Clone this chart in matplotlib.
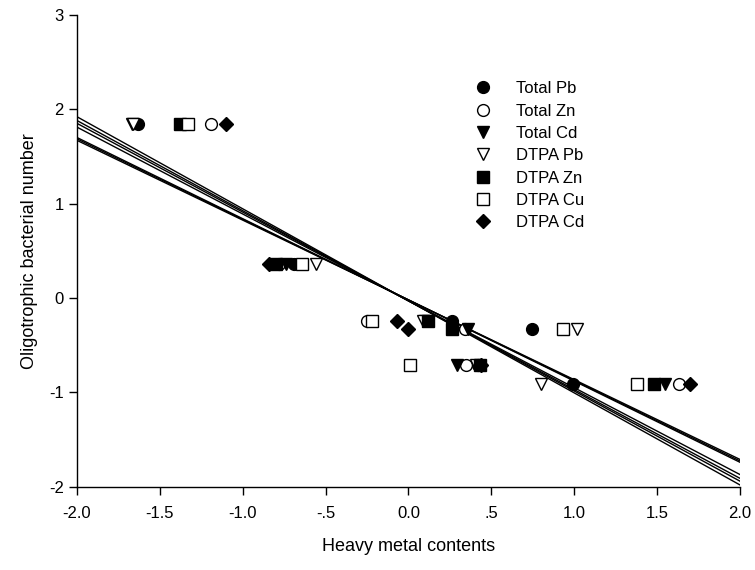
import numpy as np
import matplotlib
matplotlib.use("Agg")
import matplotlib.pyplot as plt

plt.rcParams["font.family"] = ["Liberation Sans", "DejaVu Sans"]
plt.rcParams["axes.unicode_minus"] = False

# standardized bacterial number (shared y for every series)
bact = [1.84, 0.36, -0.24, -0.33, -0.71, -0.91]

# standardized heavy metal contents, same sample order as bact
total_pb = [-1.63, -0.69, 0.26, 0.745, 0.42, 0.99]
total_zn = [-1.19, -0.78, -0.25, 0.34, 0.35, 1.63]
total_cd = [-1.67, -0.74, 0.10, 0.36, 0.29, 1.55]
dtpa_pb = [-1.66, -0.56, 0.09, 1.02, 0.41, 0.80]
dtpa_zn = [-1.38, -0.80, 0.12, 0.26, 0.43, 1.48]
dtpa_cu = [-1.33, -0.64, -0.22, 0.93, 0.01, 1.38]
dtpa_cd = [-1.10, -0.84, -0.07, 0.00, 0.44, 1.70]

labels = ["Total Pb", "Total Zn", "Total Cd", "DTPA Pb",
          "DTPA Zn", "DTPA Cu", "DTPA Cd"]

# regression lines (slope, intercept)
slopes = [-0.975, -0.955, -0.94, -0.92, -0.86, -0.853, -0.845]
intercepts = [-0.03, -0.03, -0.03, -0.03, -0.02, -0.02, -0.02]
line_x = [-2.0, 2.0]

xticks = [-2.0, -1.5, -1.0, -0.5, 0.0, 0.5, 1.0, 1.5, 2.0]
xticklabels = ["-2.0", "-1.5", "-1.0", "-.5", "0.0", ".5", "1.0", "1.5", "2.0"]
yticks = [-2, -1, 0, 1, 2, 3]

fig = plt.figure(figsize=(7.55, 5.7), dpi=100)
ax = fig.add_axes([0.102, 0.146, 0.878, 0.828])

xs = np.array(line_x)
for b, a in zip(slopes, intercepts):
    ax.plot(xs, a + b * xs, color="black", lw=1.0, zorder=2)

styles = [
    dict(marker="o", mfc="black"),
    dict(marker="o", mfc="white"),
    dict(marker="v", mfc="black"),
    dict(marker="v", mfc="white"),
    dict(marker="s", mfc="black"),
    dict(marker="s", mfc="white"),
    dict(marker="D", mfc="black"),
]
sizes = [8.5, 8.5, 9, 9, 8, 8, 7.5]
series = [total_pb, total_zn, total_cd, dtpa_pb, dtpa_zn, dtpa_cu, dtpa_cd]
for xv, lab, st, ms in zip(series, labels, styles, sizes):
    ax.plot(xv, bact, ls="none", mec="black", mew=1.0, ms=ms,
            label=lab, zorder=3, **st)

ax.set_xlim(-2, 2)
ax.set_ylim(-2, 3)
ax.set_xticks(xticks)
ax.set_xticklabels(xticklabels)
ax.set_yticks(yticks)
ax.tick_params(labelsize=12, direction="out", length=6, width=1)
ax.tick_params(axis="x", pad=8)
for s in ["top", "right"]:
    ax.spines[s].set_visible(False)
ax.spines["left"].set_linewidth(1)
ax.spines["bottom"].set_linewidth(1)

ax.set_xlabel("Heavy metal contents", fontsize=13, labelpad=12)
ax.set_ylabel("Oligotrophic bacterial number", fontsize=13, labelpad=8)

ax.legend(loc="upper left", bbox_to_anchor=(0.617, 0.872),
          bbox_transform=fig.transFigure, frameon=False, fontsize=12,
          labelspacing=0.44, handletextpad=1.5, borderpad=0,
          handlelength=1.0)

fig.savefig("out.png", dpi=100)
